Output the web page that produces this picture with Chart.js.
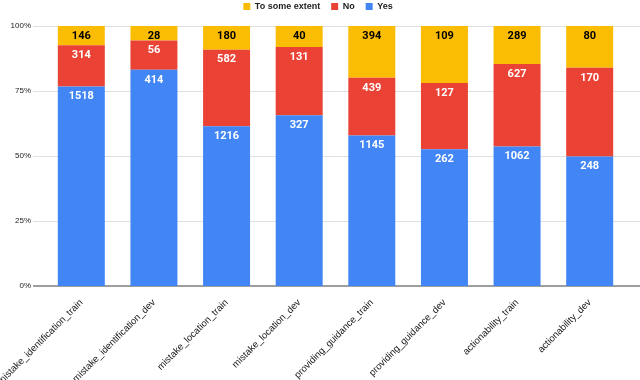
<!DOCTYPE html>
<html>
<head>
<meta charset="utf-8">
<script src="https://cdn.jsdelivr.net/npm/chart.js@4/dist/chart.umd.min.js"></script>
<style>
  html, body { margin: 0; padding: 0; background: #fff; }
  #wrap { width: 640px; height: 380px; }
</style>
</head>
<body>
<div id="wrap"><canvas id="myChart"></canvas></div>
<script>
// counts per answer, one entry per subset
var categories = ['mistake_identification_train', 'mistake_identification_dev',
  'mistake_location_train', 'mistake_location_dev', 'providing_guidance_train',
  'providing_guidance_dev', 'actionability_train', 'actionability_dev'];
var yesCounts = [1518, 414, 1216, 327, 1145, 262, 1062, 248];
var noCounts = [314, 56, 582, 131, 439, 127, 627, 170];
var someCounts = [146, 28, 180, 40, 394, 109, 289, 80];
var yTicks = [0, 25, 50, 75, 100];

var totals = [];
for (i = 0; i < categories.length; i++) {
  totals.push(yesCounts[i] + noCounts[i] + someCounts[i]);
}
function toPct(arr) {
  return arr.map(function (v, i) { return v / totals[i] * 100; });
}

// grid lines reach past the bar area, like the original
const gridLines = {
  id: 'gridLines',
  beforeDatasetsDraw: function (chart) {
    const c = chart.ctx, y = chart.scales.y;
    c.save();
    yTicks.forEach(function (t) {
      const py = Math.round(y.getPixelForValue(t));
      if (t === 0) {
        c.strokeStyle = '#9e9e9e'; c.lineWidth = 2;
      } else {
        c.strokeStyle = '#e0e0e0'; c.lineWidth = 1;
      }
      c.beginPath();
      c.moveTo(33, py + (t === 0 ? 0 : 0.5));
      c.lineTo(640, py + (t === 0 ? 0 : 0.5));
      c.stroke();
    });
    c.restore();
  }
};

const countLabels = {
  id: 'countLabels',
  afterDatasetsDraw: function (chart) {
    const c = chart.ctx;
    c.save();
    c.font = 'bold 11px Roboto, "Liberation Sans", Arial, sans-serif';
    c.textAlign = 'center';
    c.textBaseline = 'middle';
    chart.data.datasets.forEach(function (ds, di) {
      const meta = chart.getDatasetMeta(di);
      meta.data.forEach(function (bar, i) {
        c.fillStyle = ds.labelColor;
        c.fillText(ds.counts[i], bar.x, bar.y + 10);
      });
    });
    c.restore();
  }
};

// taller legend box, nudged a bit to the right
const legendBox = {
  id: 'legendBox',
  beforeInit: function (chart) {
    const fit = chart.legend.fit;
    chart.legend.fit = function () {
      fit.bind(chart.legend)();
      this.height = 35;
    };
  },
  afterLayout: function (chart) {
    chart.legend.left = 10;
  }
};

var ctx = document.getElementById('myChart');
var myChart = new Chart(ctx, {
  type: 'bar',
  data: {
    labels: categories,
    datasets: [
      { label: 'Yes', data: toPct(yesCounts), counts: yesCounts,
        backgroundColor: '#4285F4', labelColor: '#ffffff' },
      { label: 'No', data: toPct(noCounts), counts: noCounts,
        backgroundColor: '#EA4335', labelColor: '#ffffff' },
      { label: 'To some extent', data: toPct(someCounts), counts: someCounts,
        backgroundColor: '#FBBC04', labelColor: '#000000' }
    ]
  },
  options: {
    responsive: true,
    maintainAspectRatio: false,
    animation: false,
    layout: { padding: { left: 0, right: 14, top: -9, bottom: 0 } },
    datasets: { bar: { barPercentage: 0.647, categoryPercentage: 1 } },
    plugins: {
      legend: {
        display: true,
        position: 'top',
        reverse: true,
        labels: {
          boxWidth: 7, boxHeight: 7, padding: 11,
          color: '#222',
          font: { family: '"Liberation Sans", Arial, sans-serif', size: 9, weight: 'bold' }
        }
      },
      tooltip: { enabled: false }
    },
    scales: {
      x: {
        stacked: true,
        grid: { display: false },
        border: { display: false },
        afterFit: function (s) { s.height = 94; s.paddingLeft = 0; s.paddingRight = 0; },
        ticks: {
          autoSkip: false, maxRotation: 45, minRotation: 45,
          color: '#222',
          font: { family: '"Liberation Sans", Arial, sans-serif', size: 9.6 }
        }
      },
      y: {
        stacked: true,
        min: 0, max: 100,
        grid: { display: false, drawTicks: false },
        border: { display: false },
        afterFit: function (s) { s.width = 45; s.paddingTop = 0; s.paddingBottom = 0; },
        ticks: {
          stepSize: 25, padding: 14,
          color: '#222',
          font: { family: '"Liberation Sans", Arial, sans-serif', size: 8 },
          callback: function (v) { return v + '%'; }
        }
      }
    }
  },
  plugins: [gridLines, countLabels, legendBox]
});
</script>
</body>
</html>
